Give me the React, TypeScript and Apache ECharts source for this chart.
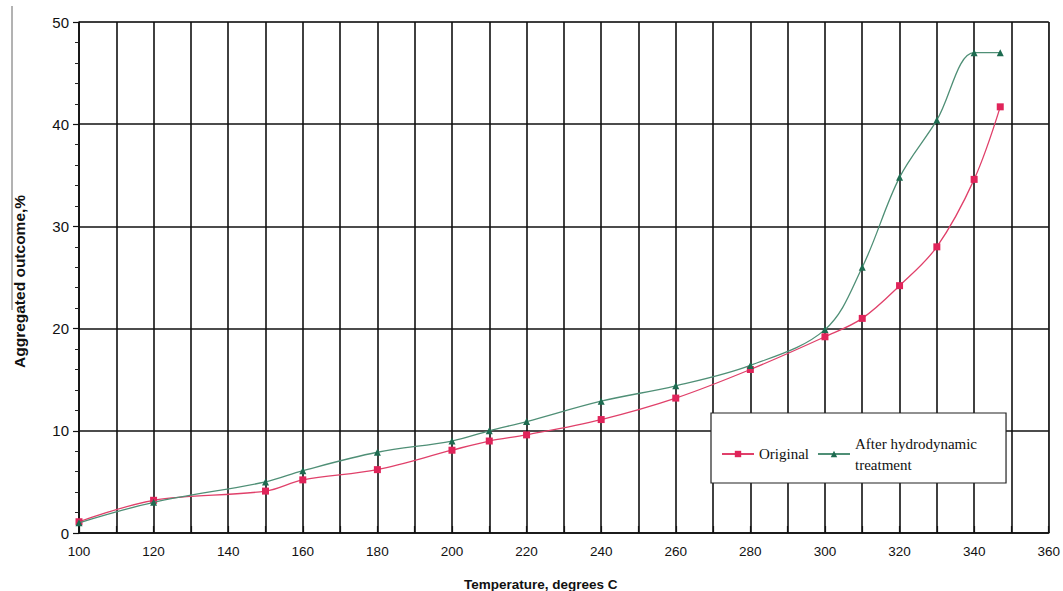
import React, { useEffect, useRef } from "react";
import * as echarts from "echarts";

const temperatures = [100, 120, 150, 160, 180, 200, 210, 220, 240, 260, 280, 300, 310, 320, 330, 340, 347];
const originalValues = [1.1, 3.2, 4.1, 5.2, 6.2, 8.1, 9.0, 9.6, 11.1, 13.2, 16.0, 19.2, 21.0, 24.2, 28.0, 34.6, 41.7];
const treatedValues = [1.0, 3.0, 5.0, 6.1, 7.9, 9.0, 10.0, 10.9, 12.9, 14.4, 16.4, 19.9, 26.0, 34.8, 40.4, 47.0, 47.0];
const seriesNames = ["Original", "After hydrodynamic\ntreatment"];
const xTitle = "Temperature, degrees C";
const yTitle = "Aggregated outcome,%";

export default function App() {
  const ref = useRef<HTMLDivElement>(null);
  useEffect(() => {
    if (!ref.current) return;
    const chart = echarts.init(ref.current, null, { renderer: "svg" });
    const pairs = (vals: number[]) => temperatures.map((t, i) => [t, vals[i]]);
    chart.setOption({
      animation: false,
      backgroundColor: "#ffffff",
      grid: { left: 79, right: 14, top: 22, bottom: 58, show: true, borderColor: "#8a8a8a", borderWidth: 1 },
      xAxis: {
        type: "value",
        min: 100,
        max: 360,
        interval: 10,
        axisLine: { show: true, lineStyle: { color: "#111", width: 1.5 } },
        axisTick: { show: true, inside: true, length: 7, lineStyle: { color: "#111", width: 1.2 } },
        axisLabel: {
          formatter: (v: number) => (v % 20 === 0 ? String(v) : ""),
          color: "#111",
          fontFamily: "Liberation Sans",
          fontSize: 13.5,
          margin: 11,
        },
        splitLine: { show: true, lineStyle: { color: "#111", width: 1.6 } },
      },
      yAxis: {
        type: "value",
        min: 0,
        max: 50,
        interval: 10,
        axisLine: { show: true, lineStyle: { color: "#111", width: 1.5 } },
        axisTick: { show: true, length: 6, lineStyle: { color: "#111", width: 1.2 } },
        minorTick: { show: true, splitNumber: 5, length: 4, lineStyle: { color: "#222", width: 1 } },
        axisLabel: { color: "#111", fontFamily: "Liberation Sans", fontSize: 15, margin: 10 },
        splitLine: { show: true, lineStyle: { color: "#111", width: 1.6 } },
      },
      legend: {
        show: true,
        left: 711,
        top: 413,
        orient: "horizontal",
        itemGap: 8,
        itemWidth: 32,
        itemHeight: 8,
        padding: [20, 29, 8, 10],
        backgroundColor: "#ffffff",
        borderColor: "#222",
        borderWidth: 1.2,
        borderRadius: 0,
        textStyle: { fontFamily: "Liberation Serif", fontSize: 15, color: "#111", lineHeight: 21 },
        data: seriesNames,
      },
      series: [
        {
          name: seriesNames[0],
          type: "line",
          smooth: 0.35,
          data: pairs(originalValues),
          symbol: "rect",
          symbolSize: 7,
          lineStyle: { color: "#e0406a", width: 1.3 },
          itemStyle: { color: "#e0245a" },
          z: 3,
        },
        {
          name: seriesNames[1],
          type: "line",
          smooth: 0.35,
          data: pairs(treatedValues),
          symbol: "triangle",
          symbolSize: 7,
          lineStyle: { color: "#4f8f76", width: 1.3 },
          itemStyle: { color: "#1d6b50" },
          z: 4,
        },
      ],
      graphic: [
        {
          type: "text",
          left: 464,
          top: 577,
          style: { text: xTitle, fontFamily: "Liberation Sans", fontSize: 13.5, fontWeight: "bold", fill: "#111" },
        },
        {
          type: "text",
          x: 11,
          y: 368,
          rotation: Math.PI / 2,
          style: { text: yTitle, fontFamily: "Liberation Sans", fontSize: 15.5, fontWeight: "bold", fill: "#111" },
        },
        {
          type: "line",
          shape: { x1: 12, y1: 6, x2: 12, y2: 310 },
          style: { stroke: "#666", lineWidth: 1 },
        },
      ],
    });
    return () => chart.dispose();
  }, []);
  return <div ref={ref} style={{ position: "fixed", left: 0, top: 0, width: 1063, height: 591 }} />;
}
